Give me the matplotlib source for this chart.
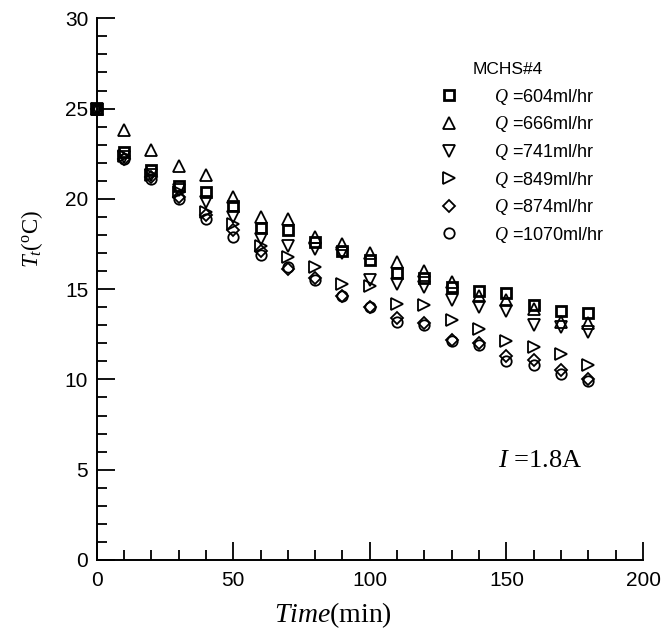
import numpy as np
import matplotlib
matplotlib.use('Agg')
import matplotlib.pyplot as plt
from matplotlib.ticker import MultipleLocator

plt.rcParams['font.family'] = 'Liberation Sans'
plt.rcParams['mathtext.fontset'] = 'custom'
plt.rcParams['mathtext.rm'] = 'Liberation Serif'
plt.rcParams['mathtext.it'] = 'Liberation Serif:italic'

# tiempo (min)
time = [0, 10, 20, 30, 40, 50, 60, 70, 80, 90, 100, 110, 120, 130, 140, 150, 160, 170, 180]

# temperaturas por caudal
t_604 = [25, 22.6, 21.6, 20.7, 20.4, 19.6, 18.4, 18.3, 17.6, 17.1, 16.6, 15.9, 15.6, 15.1, 14.9, 14.8, 14.1, 13.8, 13.7]
t_666 = [25, 23.8, 22.7, 21.8, 21.3, 20.1, 19.0, 18.9, 17.9, 17.5, 17.0, 16.5, 16.0, 15.4, 14.6, 14.4, 13.9, 13.2, 13.1]
t_741 = [25, 22.3, 21.3, 20.5, 19.8, 19.0, 17.8, 17.4, 17.2, 17.0, 15.5, 15.3, 15.1, 14.4, 14.0, 13.8, 13.0, 12.9, 12.6]
t_849 = [25, 22.4, 21.3, 20.4, 19.3, 18.6, 17.4, 16.8, 16.2, 15.3, 15.2, 14.2, 14.1, 13.3, 12.8, 12.1, 11.8, 11.4, 10.8]
t_874 = [25, 22.2, 21.2, 20.1, 19.1, 18.3, 17.1, 16.1, 15.6, 14.6, 14.0, 13.4, 13.1, 12.2, 12.0, 11.3, 11.1, 10.5, 10.0]
t_1070 = [25, 22.2, 21.1, 20.0, 18.9, 17.9, 16.9, 16.2, 15.5, 14.6, 14.0, 13.2, 13.0, 12.1, 11.9, 11.0, 10.8, 10.3, 9.9]

series = [t_604, t_666, t_741, t_849, t_874, t_1070]
labels = ['604', '666', '741', '849', '874', '1070']
markers = ['s', '^', 'v', '>', 'D', 'o']
sizes = [7, 8, 8, 8, 6.5, 7.5]
edges = [2.0, 1.3, 1.3, 1.3, 1.3, 1.3]

fig = plt.figure(figsize=(6.61, 6.32), dpi=100)
ax = fig.add_axes([0.146, 0.114, 0.827, 0.857])

for s, lab, m, ms, ew in zip(series, labels, markers, sizes, edges):
	ax.plot(time, s, linestyle='none', marker=m, markersize=ms, markerfacecolor='none',
		markeredgecolor='black', markeredgewidth=ew, label='$Q$ =' + lab + 'ml/hr', clip_on=False)

ax.set_xlim(0, 200)
ax.set_ylim(0, 30)
ax.xaxis.set_major_locator(MultipleLocator(50))
ax.xaxis.set_minor_locator(MultipleLocator(10))
ax.yaxis.set_major_locator(MultipleLocator(5))
ax.yaxis.set_minor_locator(MultipleLocator(1))
ax.tick_params(which='both', direction='in', width=1.3, labelsize=15)
ax.tick_params(which='major', length=13)
ax.tick_params(which='minor', length=7)
ax.tick_params(axis='x', pad=8)
ax.tick_params(axis='y', pad=6)
ax.spines['top'].set_visible(False)
ax.spines['right'].set_visible(False)
ax.spines['left'].set_linewidth(1.4)
ax.spines['bottom'].set_linewidth(1.4)

ax.set_xlabel('$Time$(min)', fontsize=20, family='Liberation Serif')
ax.xaxis.set_label_coords(0.433, -0.074)
ax.set_ylabel('$T_t$($^\\mathrm{o}$C)', fontsize=16.5, family='Liberation Serif')
ax.yaxis.set_label_coords(-0.095, 0.592)

ax.text(147, 5.5, '$I$ =1.8A', fontsize=19, family='Liberation Serif', va='center')

# titulo da legenda deslocado para a direita
ax.text(0.688, 0.906, 'MCHS#4', transform=ax.transAxes, fontsize=12.5, va='center')
leg = ax.legend(loc='upper left', bbox_to_anchor=(0.605, 0.897), frameon=False,
	fontsize=13, handlelength=1.0, handletextpad=2.0, labelspacing=0.42, borderpad=0.2)

plt.savefig('out.png', dpi=100)
